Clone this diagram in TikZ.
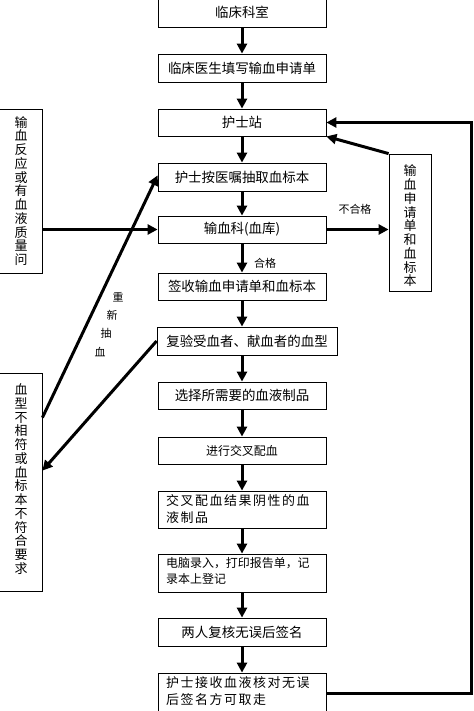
\documentclass[tikz,border=0pt]{standalone}
\usepackage{fontspec}
\setmainfont{Noto Sans CJK SC}
\newfontfamily\cjkwide[LetterSpace=12]{Noto Sans CJK SC}
\usetikzlibrary{arrows.meta,calc}
\tikzset{
  box/.style={draw=black, line width=0.8bp, rectangle, inner sep=0pt, minimum width=168bp, minimum height=27bp, font=\fontsize{13.5}{15}\selectfont},
  sidebox/.style={draw=black, line width=0.8bp, rectangle, inner sep=0pt},
  vtext/.style={align=center, inner sep=0pt, font=\fontsize{13}{13.8}\selectfont},
  twoline/.style={align=left, inner sep=0pt, anchor=north west, font=\cjkwide\fontsize{13}{17}\selectfont},
  lbl/.style={inner sep=0pt, font=\fontsize{11}{12}\selectfont},
  arr/.style={line width=3bp, -{Triangle[length=10bp,width=10bp]}}
}
\begin{document}
\begin{tikzpicture}[x=1bp,y=-1bp]
\fill[white] (0,0) rectangle (474,711);
\useasboundingbox (0,0) rectangle (474,711);
% main column
\node[box, minimum height=30bp] (b1) at (242,12) {临床科室};
\node[box, minimum height=28bp] (b2) at (242,68) {临床医生填写输血申请单};
\node[box] (b3) at (242,122.5) {护士站};
\node[box, minimum height=28bp] (b4) at (242,177) {护士按医嘱抽取血标本};
\node[box] (b5) at (242,229.5) {输血科(血库)};
\node[box] (b6) at (242,286.5) {签收输血申请单和血标本};
\node[box, minimum width=180bp, minimum height=28bp] (b7) at (247,341) {复验受血者、献血者的血型};
\node[box] (b8) at (242,395.5) {选择所需要的血液制品};
\node[box, font=\fontsize{12}{14}\selectfont] (b9) at (242,450.5) {进行交叉配血};
\node[box, minimum height=37bp] (b10) at (242,509.5) {};
\node[box, minimum height=38bp] (b11) at (242,573) {};
\node[box, minimum height=28bp] (b12) at (242,632) {两人复核无误后签名};
\node[box, minimum height=40bp] (b13) at (242,693) {};
\node[twoline] (t10) at (166,494) {交叉配血结果阴性的血\\液制品};
\node[twoline, font=\fontsize{12}{16}\selectfont] (t11) at (166,557) {电脑录入，打印报告单，记\\录本上登记};
\node[twoline] (t13) at (166,676) {护士接收血液核对无误\\后签名方可取走};
% side boxes
\node[sidebox, minimum width=50bp, minimum height=164bp] (L1) at (17,191) {};
\node[vtext] (L1t) at (21,191) {输\\血\\反\\应\\或\\有\\血\\液\\质\\量\\问};
\node[sidebox, minimum width=50bp, minimum height=218bp] (L2) at (17,482) {};
\node[vtext] (L2t) at (21,479) {血\\型\\不\\相\\符\\或\\血\\标\\本\\不\\符\\合\\要\\求};
\node[sidebox, minimum width=42bp, minimum height=137bp] (R) at (410,222.5) {};
\node[vtext] (Rt) at (410,226) {输\\血\\申\\请\\单\\和\\血\\标\\本};
% main down arrows
\draw[arr] (b1) -- (b2);
\draw[arr] (b2) -- (b3);
\draw[arr] (b3) -- (b4);
\draw[arr] (b4) -- (b5);
\draw[arr] (b5) -- (b6);
\draw[arr] (b6) -- (b6 |- b7.north);
\draw[arr] (b8 |- b7.south) -- (b8);
\draw[arr] (b8) -- (b9);
\draw[arr] (b9) -- (b10);
\draw[arr] (b10) -- (b11);
\draw[arr] (b11) -- (b12);
\draw[arr] (b12) -- (b13);
% loop back
\draw[arr] (b13.east) -- ++(145,0) |- (b3.east);
\draw[arr] (R.north west) -- (b3.south east);
% unqualified
\draw[arr] (b5.east) -- (b5.east -| R.west);
\node[lbl] (nq) at (355,209) {不合格};
\node[lbl] (q) at (265,263) {合格};
% left inputs
\draw[arr] (L1.east |- b5.west) -- (b5.west);
\coordinate (s1) at ($(L2.north east)+(0,45)$);
\coordinate (e1) at ($(b4.south west)+(0,-16)$);
\draw[arr] (s1) -- (e1);
\coordinate (e2) at ($(L2.north east)+(0,98)$);
\draw[arr] (b7.west) -- (e2);
\node[lbl] (r1) at (118,297) {重};
\node[lbl] (r2) at (112,315) {新};
\node[lbl] (r3) at (106,333) {抽};
\node[lbl] (r4) at (100,352) {血};
\end{tikzpicture}
\end{document}
